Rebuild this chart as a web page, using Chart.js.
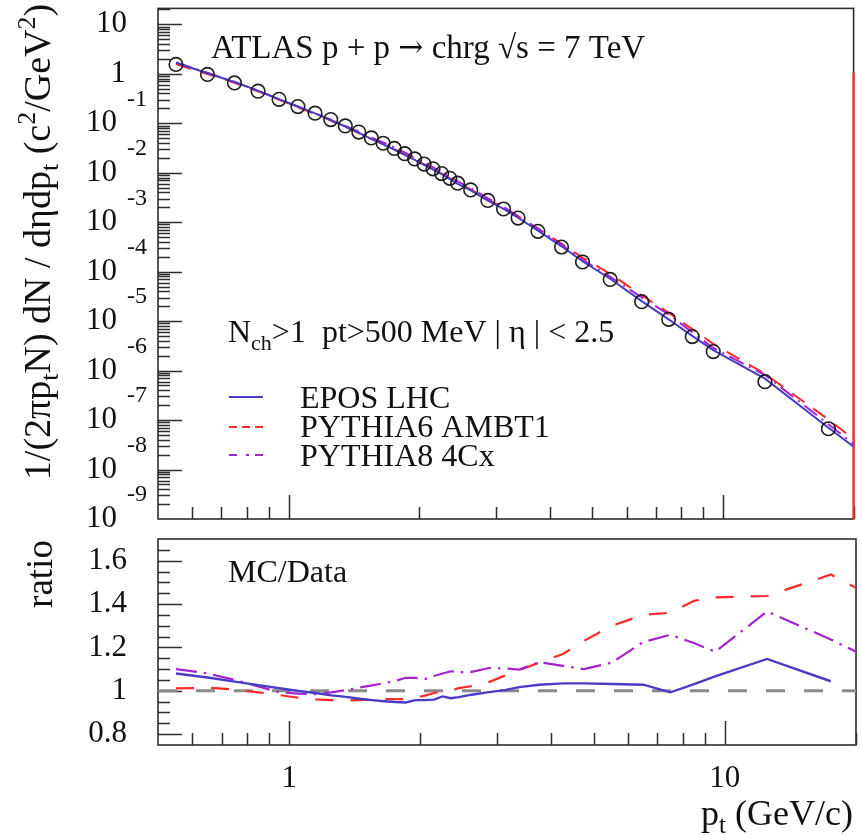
<!DOCTYPE html>
<html>
<head>
<meta charset="utf-8">
<script src="https://cdn.jsdelivr.net/npm/chart.js@4/dist/chart.umd.min.js"></script>
<style>
  html, body { margin: 0; padding: 0; background: #fff; }
  #wrap { position: relative; width: 862px; height: 835px; }
  canvas { position: absolute; left: 0; }
  #spec { top: 0; }
  #ratio { top: 530px; }
</style>
</head>
<body>
<div id="wrap">
  <canvas id="spec" width="862" height="530"></canvas>
  <canvas id="ratio" width="862" height="305"></canvas>
</div>
<script>
// pT bin centres of the measured spectrum (GeV/c)
const ptBins = [0.55, 0.65, 0.75, 0.85, 0.95, 1.05, 1.15, 1.25, 1.35, 1.45,
                1.55, 1.65, 1.75, 1.85, 1.95, 2.05, 2.15, 2.25, 2.35, 2.45,
                2.625, 2.875, 3.125, 3.375, 3.75, 4.25, 4.75, 5.5, 6.5, 7.5,
                8.5, 9.5, 12.5, 17.5];
// generator curves run one point further, up to the axis end
const ptModel = [0.55, 0.65, 0.75, 0.85, 0.95, 1.05, 1.15, 1.25, 1.35, 1.45,
                 1.55, 1.65, 1.75, 1.85, 1.95, 2.05, 2.15, 2.25, 2.35, 2.45,
                 2.625, 2.875, 3.125, 3.375, 3.75, 4.25, 4.75, 5.5, 6.5, 7.5,
                 8.5, 9.5, 12.5, 17.5, 20];

// ATLAS charged-particle spectrum 1/(2pi pT N) dN/deta dpT
const atlasSpectrum = [1.55, 0.97, 0.655, 0.445, 0.305, 0.218, 0.160, 0.119, 0.0885, 0.0665,
                       0.0505, 0.0395, 0.0310, 0.0243, 0.0190, 0.0150, 0.0120, 0.00960, 0.00770, 0.00615,
                       0.00450, 0.00275, 0.00185, 0.00121, 6.55e-4, 3.15e-4, 1.57e-4, 6.97e-5, 2.47e-5, 1.09e-5,
                       4.87e-6, 2.43e-6, 5.98e-7, 6.68e-8];

// generator spectra
const eposSpectrum = [1.674, 1.029, 0.6825, 0.4566, 0.3087, 0.2178, 0.1584, 0.1165, 0.08602, 0.06404,
                      0.04833, 0.03760, 0.02939, 0.02299, 0.01818, 0.01436, 0.01151, 0.009350, 0.007438, 0.005972,
                      0.004419, 0.002734, 0.001856, 0.001231, 6.733e-4, 3.257e-4, 1.623e-4, 7.186e-5, 2.539e-5, 1.082e-5,
                      5.021e-6, 2.590e-6, 6.859e-7, 6.974e-8, 2.9e-8];
const pythia6Spectrum = [1.567, 0.9836, 0.6589, 0.4419, 0.2989, 0.2110, 0.1536, 0.1139, 0.08452, 0.06364,
                         0.04848, 0.03800, 0.02982, 0.02338, 0.01839, 0.01467, 0.01188, 0.009562, 0.00770, 0.006224,
                         0.004599, 0.00286, 0.001980, 0.001325, 7.402e-4, 3.686e-4, 1.931e-4, 9.061e-5, 3.335e-5, 1.482e-5,
                         6.891e-6, 3.477e-6, 8.593e-7, 1.026e-7, 4.1e-8];
const pythia8Spectrum = [1.705, 1.048, 0.6878, 0.4539, 0.3029, 0.2152, 0.1576, 0.1182, 0.08877, 0.06750,
                         0.05176, 0.04088, 0.03240, 0.02576, 0.02014, 0.01581, 0.01282, 0.01037, 0.008393, 0.006679,
                         0.004892, 0.003039, 0.002041, 0.001329, 7.415e-4, 3.512e-4, 1.727e-4, 7.876e-5, 3.026e-5, 1.371e-5,
                         5.941e-6, 2.867e-6, 8.169e-7, 8.263e-8, 3.3e-8];

// MC / data ratios
const eposRatio = [1.080, 1.061, 1.042, 1.026, 1.012, 0.999, 0.990, 0.979, 0.972, 0.963,
                   0.957, 0.952, 0.948, 0.946, 0.957, 0.957, 0.959, 0.974, 0.966, 0.971,
                   0.982, 0.994, 1.003, 1.017, 1.028, 1.034, 1.034, 1.031, 1.028, 0.993,
                   1.031, 1.066, 1.147, 1.044];
const pythia6Ratio = [1.011, 1.014, 1.006, 0.993, 0.980, 0.968, 0.960, 0.957, 0.955, 0.957,
                      0.960, 0.962, 0.962, 0.962, 0.968, 0.978, 0.990, 0.996, 1.000, 1.012,
                      1.022, 1.040, 1.070, 1.095, 1.130, 1.170, 1.230, 1.300, 1.350, 1.360,
                      1.415, 1.431, 1.437, 1.536, 1.475];
const pythia8Ratio = [1.100, 1.080, 1.050, 1.020, 0.993, 0.987, 0.985, 0.993, 1.003, 1.015,
                      1.025, 1.035, 1.045, 1.060, 1.060, 1.054, 1.068, 1.080, 1.090, 1.086,
                      1.087, 1.105, 1.103, 1.098, 1.132, 1.115, 1.100, 1.130, 1.225, 1.258,
                      1.220, 1.180, 1.366, 1.237, 1.180];

// right-hand edge of the PYTHIA6 histogram (x = 20)
const edgeX = [20, 20];
const edgeY = [1.05, 1e-9];
// unity reference in the ratio pad
const unityX = [0.5, 20];
const unityY = [1, 1];

// axis ticks and labels
const xMinorTicks = [0.6, 0.7, 0.8, 0.9, 2, 3, 4, 5, 6, 7, 8, 9, 20];
const xMajorTicks = [1, 10];
const xTickLabels = ['1', '10'];
const decadeExponents = [1, 0, -1, -2, -3, -4, -5, -6, -7, -8, -9];
const ratioMajorTicks = [0.8, 1.0, 1.2, 1.4, 1.6];
const ratioTickLabels = ['0.8', '1', '1.2', '1.4', '1.6'];
const ratioMinorTicks = [0.85, 0.9, 0.95, 1.05, 1.1, 1.15, 1.25, 1.3, 1.35, 1.45, 1.5, 1.55, 1.65];
const legendNames = ['EPOS LHC', 'PYTHIA6 AMBT1', 'PYTHIA8 4Cx'];

const SERIF = '"Liberation Serif", "Times New Roman", serif';
const SYMBOL = '"DejaVu Serif", "Liberation Serif", serif';
const FRAME = '#2e2e2e';
const BLUE = '#4a3cc4';
const RED = '#ff2a2a';
const PURPLE = '#a424d0';
const GREY = '#8a8a8a';

function pts(xs, ys) { return ys.map((y, i) => ({ x: xs[i], y })); }

function font(size, family) { return size + 'px ' + (family || SERIF); }

function drawRich(ctx, parts, x, y, align) {
  let w = 0;
  for (const p of parts) { ctx.font = font(p.s, p.f); w += ctx.measureText(p.t).width; }
  let cx = align === 'center' ? x - w / 2 : (align === 'right' ? x - w : x);
  ctx.textAlign = 'left';
  ctx.textBaseline = 'alphabetic';
  for (const p of parts) {
    ctx.font = font(p.s, p.f);
    ctx.fillText(p.t, cx, y + (p.dy || 0));
    cx += ctx.measureText(p.t).width;
  }
}

function drawFrame(ctx, a) {
  ctx.save();
  ctx.strokeStyle = FRAME;
  ctx.lineWidth = 1.6;
  ctx.strokeRect(a.left, a.top, a.right - a.left, a.bottom - a.top);
  ctx.restore();
}

function drawXTicks(ctx, chart) {
  const xs = chart.scales.x, a = chart.chartArea;
  ctx.save();
  ctx.strokeStyle = FRAME;
  ctx.lineWidth = 1.5;
  ctx.beginPath();
  for (const v of xMinorTicks) {
    const px = Math.round(xs.getPixelForValue(v)) + 0.5;
    ctx.moveTo(px, a.bottom); ctx.lineTo(px, a.bottom - 12);
  }
  for (const v of xMajorTicks) {
    const px = Math.round(xs.getPixelForValue(v)) + 0.5;
    ctx.moveTo(px, a.bottom); ctx.lineTo(px, a.bottom - 24);
  }
  ctx.stroke();
  ctx.restore();
}

function drawLegendLine(ctx, y, color, dash, width) {
  ctx.save();
  ctx.strokeStyle = color;
  ctx.lineWidth = width;
  ctx.setLineDash(dash);
  ctx.beginPath();
  ctx.moveTo(229, y); ctx.lineTo(263, y);
  ctx.stroke();
  ctx.restore();
}

const spectrumDecor = {
  id: 'spectrumDecor',
  beforeDatasetsDraw(chart) {
    const ctx = chart.ctx, a = chart.chartArea, ys = chart.scales.y;
    drawFrame(ctx, a);
    drawXTicks(ctx, chart);
    // logarithmic y ticks
    ctx.save();
    ctx.strokeStyle = FRAME;
    ctx.lineWidth = 1.5;
    ctx.beginPath();
    for (const e of decadeExponents) {
      const base = Math.pow(10, e);
      if (e > -9) {
        const py = Math.round(ys.getPixelForValue(base)) + 0.5;
        ctx.moveTo(a.left, py); ctx.lineTo(a.left + 24, py);
      }
      for (let k = 2; k <= 9; k++) {
        const v = k * base;
        if (v > ys.max) continue;
        const py = Math.round(ys.getPixelForValue(v)) + 0.5;
        ctx.moveTo(a.left, py); ctx.lineTo(a.left + 12, py);
      }
    }
    ctx.stroke();
    ctx.restore();
  },
  afterDraw(chart) {
    const ctx = chart.ctx, ys = chart.scales.y;
    ctx.save();
    ctx.fillStyle = '#111';
    // decade labels
    for (const e of decadeExponents) {
      const py = ys.getPixelForValue(Math.pow(10, e));
      ctx.font = font(31);
      ctx.textBaseline = 'middle';
      if (e === 1) { ctx.textAlign = 'right'; ctx.fillText('10', 127, py); }
      else if (e === 0) { ctx.textAlign = 'right'; ctx.fillText('1', 126, py); }
      else {
        ctx.textAlign = 'right'; ctx.fillText('10', 117, py);
        ctx.font = font(24);
        ctx.textAlign = 'left'; ctx.fillText(String(e), 127, py - 24);
      }
    }
    // axis title, rotated
    ctx.save();
    ctx.translate(50, 242);
    ctx.rotate(-Math.PI / 2);
    drawRich(ctx, [
      { t: '1/(2πp', s: 38 }, { t: 't', s: 26, dy: 8 }, { t: 'N) dN / dηdp', s: 38 },
      { t: 't', s: 26, dy: 8 }, { t: ' (c', s: 38 }, { t: '2', s: 26, dy: -15 },
      { t: '/GeV', s: 38 }, { t: '2', s: 26, dy: -15 }, { t: ')', s: 38 }
    ], 0, 0, 'center');
    ctx.restore();
    // annotations
    drawRich(ctx, [
      { t: 'ATLAS p + p ', s: 33 }, { t: '→', s: 30, f: SYMBOL, dy: -1 },
      { t: ' chrg √s = 7 TeV', s: 33 }
    ], 211, 58, 'left');
    drawRich(ctx, [{ t: 'N', s: 32 }, { t: 'ch', s: 22, dy: 8 }, { t: '>1  pt>500 MeV | η | < 2.5', s: 32 }], 228, 342, 'left');
    // legend
    drawLegendLine(ctx, 397, BLUE, [], 2);
    drawLegendLine(ctx, 427, RED, [8, 5], 2);
    drawLegendLine(ctx, 455, PURPLE, [8, 9, 3, 6], 2);
    drawRich(ctx, [{ t: legendNames[0], s: 32 }], 300, 408, 'left');
    drawRich(ctx, [{ t: legendNames[1], s: 32 }], 300, 437, 'left');
    drawRich(ctx, [{ t: legendNames[2], s: 32 }], 300, 466, 'left');
    ctx.restore();
  }
};

const ratioDecor = {
  id: 'ratioDecor',
  beforeDatasetsDraw(chart) {
    const ctx = chart.ctx, a = chart.chartArea, ys = chart.scales.y;
    drawFrame(ctx, a);
    drawXTicks(ctx, chart);
    ctx.save();
    ctx.strokeStyle = FRAME;
    ctx.lineWidth = 1.5;
    ctx.beginPath();
    for (const v of ratioMajorTicks) {
      const py = Math.round(ys.getPixelForValue(v)) + 0.5;
      ctx.moveTo(a.left, py); ctx.lineTo(a.left + 24, py);
    }
    for (const v of ratioMinorTicks) {
      const py = Math.round(ys.getPixelForValue(v)) + 0.5;
      ctx.moveTo(a.left, py); ctx.lineTo(a.left + 12, py);
    }
    ctx.stroke();
    ctx.restore();
  },
  afterDraw(chart) {
    const ctx = chart.ctx, xs = chart.scales.x, ys = chart.scales.y;
    ctx.save();
    ctx.fillStyle = '#111';
    ctx.font = font(31);
    ctx.textAlign = 'right';
    ctx.textBaseline = 'middle';
    ratioMajorTicks.forEach((v, i) => ctx.fillText(ratioTickLabels[i], 127, ys.getPixelForValue(v)));
    ctx.textAlign = 'center';
    xMajorTicks.forEach((v, i) => ctx.fillText(xTickLabels[i], xs.getPixelForValue(v), 249));
    // axis titles
    drawRich(ctx, [{ t: 'p', s: 36 }, { t: 't', s: 25, dy: 8 }, { t: ' (GeV/c)', s: 36 }], 853, 295, 'right');
    ctx.save();
    ctx.translate(52, 44);
    ctx.rotate(-Math.PI / 2);
    drawRich(ctx, [{ t: 'ratio', s: 37 }], 0, 0, 'center');
    ctx.restore();
    drawRich(ctx, [{ t: 'MC/Data', s: 32 }], 228, 52, 'left');
    ctx.restore();
  }
};

const common = {
  responsive: false,
  animation: false,
  devicePixelRatio: 1,
  events: [],
  plugins: { legend: { display: false }, tooltip: { enabled: false } }
};

new Chart(document.getElementById('spec'), {
  type: 'scatter',
  data: {
    datasets: [
      { label: 'ATLAS', data: pts(ptBins, atlasSpectrum), showLine: false,
        pointStyle: 'circle', pointRadius: 6.8, pointBorderWidth: 1.6,
        pointBorderColor: '#1e1e1e', pointBackgroundColor: 'rgba(0,0,0,0)' },
      { label: legendNames[0], data: pts(ptModel, eposSpectrum), showLine: true,
        borderColor: BLUE, borderWidth: 2, pointRadius: 0 },
      { label: legendNames[2], data: pts(ptModel, pythia8Spectrum), showLine: true,
        borderColor: PURPLE, borderWidth: 2, borderDash: [16, 6, 2, 6], pointRadius: 0 },
      { label: legendNames[1], data: pts(ptModel, pythia6Spectrum), showLine: true,
        borderColor: RED, borderWidth: 2, borderDash: [15, 11], pointRadius: 0 },
      { label: 'edge', data: pts(edgeX, edgeY), showLine: true, clip: false,
        borderColor: RED, borderWidth: 2.2, pointRadius: 0 }
    ]
  },
  options: Object.assign({}, common, {
    layout: { padding: { left: 158, right: 6, top: 6, bottom: 11 } },
    scales: {
      x: { type: 'logarithmic', min: 0.5, max: 20, display: false },
      y: { type: 'logarithmic', min: 1e-9, max: 21, display: false }
    }
  }),
  plugins: [spectrumDecor]
});

new Chart(document.getElementById('ratio'), {
  type: 'scatter',
  data: {
    datasets: [
      { label: legendNames[0], data: pts(ptBins, eposRatio), showLine: true,
        borderColor: BLUE, borderWidth: 2.4, pointRadius: 0 },
      { label: legendNames[2], data: pts(ptModel, pythia8Ratio), showLine: true,
        borderColor: PURPLE, borderWidth: 2.2, borderDash: [21, 7, 2.5, 7], pointRadius: 0 },
      { label: legendNames[1], data: pts(ptModel, pythia6Ratio), showLine: true,
        borderColor: RED, borderWidth: 2.2, borderDash: [18, 17], pointRadius: 0 },
      { label: 'unity', data: pts(unityX, unityY), showLine: true,
        borderColor: GREY, borderWidth: 3, borderDash: [19, 19], pointRadius: 0 }
    ]
  },
  options: Object.assign({}, common, {
    layout: { padding: { left: 158, right: 6, top: 9, bottom: 90 } },
    scales: {
      x: { type: 'logarithmic', min: 0.5, max: 20, display: false },
      y: { type: 'linear', min: 0.75, max: 1.7, display: false }
    }
  }),
  plugins: [ratioDecor]
});
</script>
</body>
</html>
